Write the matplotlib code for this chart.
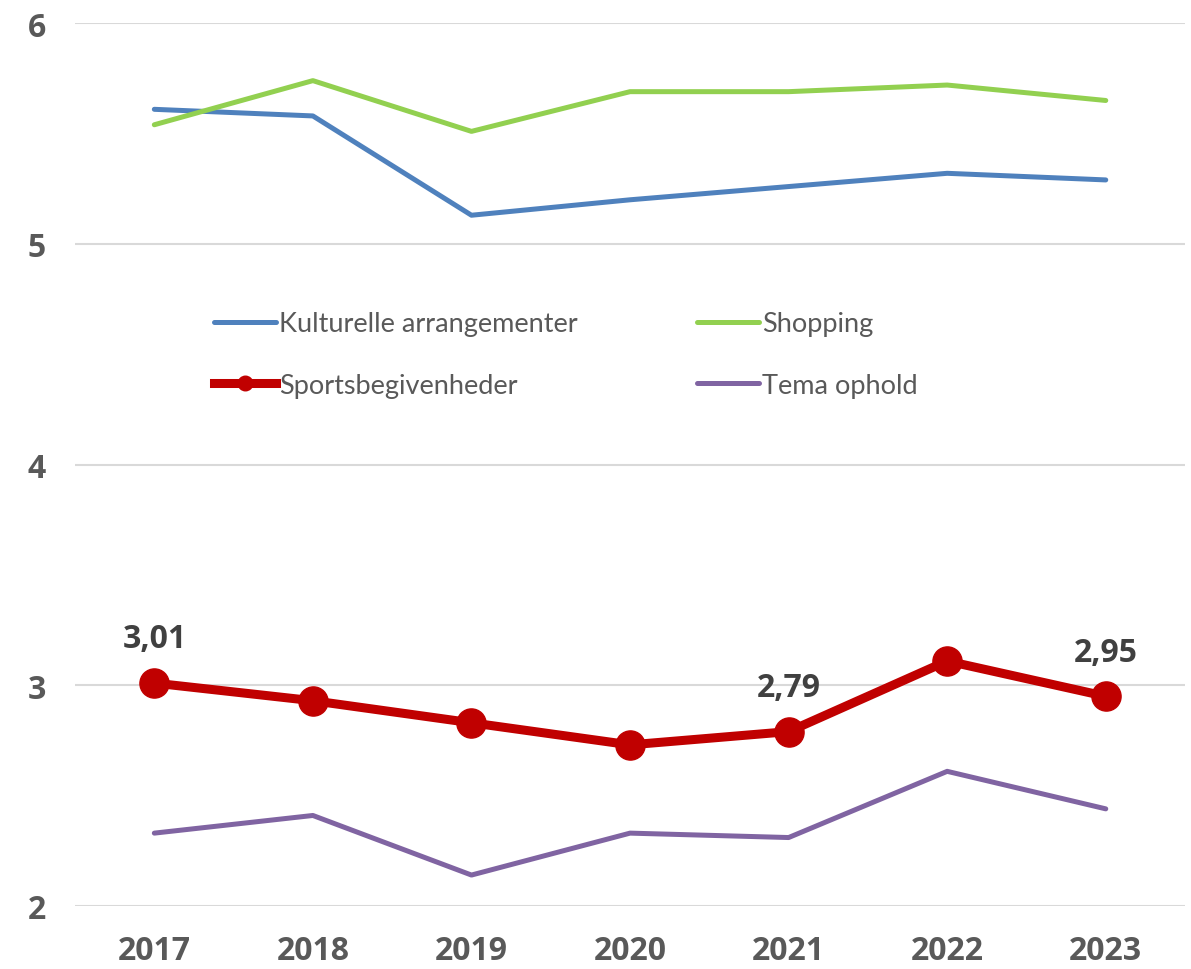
import matplotlib.pyplot as plt

plt.rcParams['font.family'] = ['Lato', 'DejaVu Sans']
bold_font = ['Open Sans', 'DejaVu Sans']

# data
years = ['2017', '2018', '2019', '2020', '2021', '2022', '2023']
kulturelle = [5.61, 5.58, 5.13, 5.20, 5.26, 5.32, 5.29]
shopping = [5.54, 5.74, 5.51, 5.69, 5.69, 5.72, 5.65]
sport = [3.01, 2.93, 2.83, 2.73, 2.79, 3.11, 2.95]
tema = [2.33, 2.41, 2.14, 2.33, 2.31, 2.61, 2.44]
labelled = [0, 4, 6]  # punkter med datamærke

fig = plt.figure(figsize=(11.91, 9.7), dpi=100)
ax = fig.add_axes([0.063, 0.065, 0.932, 0.91])

x = range(len(years))
l1, = ax.plot(x, kulturelle, color='#4F81BD', lw=3.6, label='Kulturelle arrangementer', solid_capstyle='round')
l2, = ax.plot(x, shopping, color='#92D050', lw=3.6, label='Shopping', solid_capstyle='round')
l3, = ax.plot(x, sport, color='#C00000', lw=6.5, marker='o', ms=21, label='Sportsbegivenheder', zorder=5)
l4, = ax.plot(x, tema, color='#8064A2', lw=3.6, label='Tema ophold', solid_capstyle='round')

for i in labelled:
    ax.annotate(f'{sport[i]:.2f}'.replace('.', ','), (i, sport[i]), xytext=(0, 20),
                textcoords='offset points', ha='center', va='bottom',
                fontsize=23, fontweight='bold', family=bold_font, color='#404040')

ax.set_xlim(-0.5, len(years) - 0.5)
ax.set_ylim(2, 6)
ax.set_yticks([2, 3, 4, 5, 6])
ax.set_xticks(list(x))
ax.set_xticklabels(years)
ax.tick_params(length=0, labelsize=23, labelcolor='#595959')
ax.tick_params(axis='x', pad=20)
ax.tick_params(axis='y', pad=21)
for lab in ax.get_xticklabels() + ax.get_yticklabels():
    lab.set_fontweight('bold')
    lab.set_family(bold_font)

ax.grid(axis='y', color='#D9D9D9', lw=1.5)
ax.set_axisbelow(True)
for s in ax.spines.values():
    s.set_visible(False)

# rækkevis rækkefølge som i originalen
leg = ax.legend([l1, l3, l2, l4], [l1.get_label(), l3.get_label(), l2.get_label(), l4.get_label()],
                ncol=2, loc='center', bbox_to_anchor=(0.442, 0.625), frameon=False,
                fontsize=19.5, handlelength=2.3, handletextpad=0.1, columnspacing=4.4,
                labelspacing=1.35, markerscale=0.5)
for t in leg.get_texts():
    t.set_color('#595959')

fig.savefig('out.png', dpi=100)
